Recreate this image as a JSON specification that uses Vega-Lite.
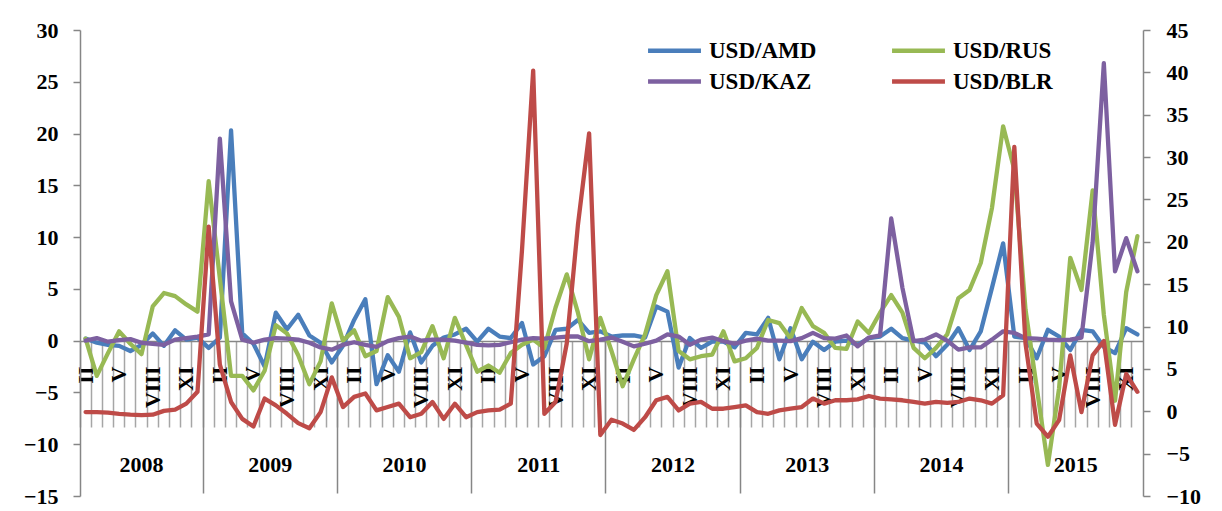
{
  "$schema": "https://vega.github.io/schema/vega-lite/v6.json",
  "width": 1063,
  "height": 466,
  "autosize": "none",
  "padding": {"left": 80, "top": 30, "right": 79, "bottom": 15},
  "background": "white",
  "config": {
    "view": {"stroke": null},
    "font": "Liberation Serif",
    "axis": {
      "labelFont": "Liberation Serif",
      "labelFontWeight": "bold",
      "labelFontSize": 22,
      "labelColor": "#000000",
      "domainColor": "#868686",
      "tickColor": "#868686",
      "grid": false
    }
  },
  "data": {
    "values": [
      {"m": "2008-02", "USD/AMD": 0.2, "USD/RUS": 0.2, "USD/KAZ": 0, "USD/BLR": -0.1},
      {"m": "2008-03", "USD/AMD": -0.2, "USD/RUS": -3.4, "USD/KAZ": 0.25, "USD/BLR": -0.1},
      {"m": "2008-04", "USD/AMD": -0.4, "USD/RUS": -1.2, "USD/KAZ": -0.1, "USD/BLR": -0.15},
      {"m": "2008-05", "USD/AMD": -0.5, "USD/RUS": 0.9, "USD/KAZ": 0.05, "USD/BLR": -0.3},
      {"m": "2008-06", "USD/AMD": -1.0, "USD/RUS": -0.3, "USD/KAZ": 0.15, "USD/BLR": -0.4},
      {"m": "2008-07", "USD/AMD": -0.4, "USD/RUS": -1.3, "USD/KAZ": -0.2, "USD/BLR": -0.45},
      {"m": "2008-08", "USD/AMD": 0.7, "USD/RUS": 3.3, "USD/KAZ": -0.3, "USD/BLR": -0.4},
      {"m": "2008-09", "USD/AMD": -0.5, "USD/RUS": 4.6, "USD/KAZ": -0.4, "USD/BLR": 0.05},
      {"m": "2008-10", "USD/AMD": 1.0, "USD/RUS": 4.3, "USD/KAZ": 0.1, "USD/BLR": 0.2},
      {"m": "2008-11", "USD/AMD": 0.1, "USD/RUS": 3.5, "USD/KAZ": 0.25, "USD/BLR": 0.9},
      {"m": "2008-12", "USD/AMD": 0.3, "USD/RUS": 2.8, "USD/KAZ": 0.4, "USD/BLR": 2.3},
      {"m": "2009-01", "USD/AMD": -0.7, "USD/RUS": 15.4, "USD/KAZ": 0.6, "USD/BLR": 21.8},
      {"m": "2009-02", "USD/AMD": 0.3, "USD/RUS": 6.0, "USD/KAZ": 19.5, "USD/BLR": 5.5},
      {"m": "2009-03", "USD/AMD": 20.3, "USD/RUS": -3.4, "USD/KAZ": 3.8, "USD/BLR": 1.1},
      {"m": "2009-04", "USD/AMD": 0.7, "USD/RUS": -3.4, "USD/KAZ": 0.1, "USD/BLR": -0.9},
      {"m": "2009-05", "USD/AMD": -0.3, "USD/RUS": -4.8, "USD/KAZ": -0.2, "USD/BLR": -1.8},
      {"m": "2009-06", "USD/AMD": -2.5, "USD/RUS": -2.9, "USD/KAZ": 0.1, "USD/BLR": 1.5},
      {"m": "2009-07", "USD/AMD": 2.7, "USD/RUS": 1.5, "USD/KAZ": 0.25, "USD/BLR": 0.7},
      {"m": "2009-08", "USD/AMD": 1.1, "USD/RUS": 0.7, "USD/KAZ": 0.2, "USD/BLR": -0.3},
      {"m": "2009-09", "USD/AMD": 2.5, "USD/RUS": -1.4, "USD/KAZ": 0.1, "USD/BLR": -1.4},
      {"m": "2009-10", "USD/AMD": 0.5, "USD/RUS": -4.2, "USD/KAZ": -0.2, "USD/BLR": -2.0},
      {"m": "2009-11", "USD/AMD": -0.2, "USD/RUS": -2.0, "USD/KAZ": -0.65, "USD/BLR": -0.1},
      {"m": "2009-12", "USD/AMD": -2.1, "USD/RUS": 3.6, "USD/KAZ": -0.87, "USD/BLR": 4.0},
      {"m": "2010-01", "USD/AMD": -0.5, "USD/RUS": 0, "USD/KAZ": -0.4, "USD/BLR": 0.5},
      {"m": "2010-02", "USD/AMD": 2.0, "USD/RUS": 1.0, "USD/KAZ": -0.15, "USD/BLR": 1.7},
      {"m": "2010-03", "USD/AMD": 4.0, "USD/RUS": -1.5, "USD/KAZ": -0.4, "USD/BLR": 2.1},
      {"m": "2010-04", "USD/AMD": -4.2, "USD/RUS": -1.0, "USD/KAZ": -0.6, "USD/BLR": 0.1},
      {"m": "2010-05", "USD/AMD": -1.4, "USD/RUS": 4.2, "USD/KAZ": -0.05, "USD/BLR": 0.5},
      {"m": "2010-06", "USD/AMD": -3.0, "USD/RUS": 2.3, "USD/KAZ": 0.25, "USD/BLR": 0.9},
      {"m": "2010-07", "USD/AMD": 0.8, "USD/RUS": -1.7, "USD/KAZ": 0.4, "USD/BLR": -0.7},
      {"m": "2010-08", "USD/AMD": -2.1, "USD/RUS": -1.1, "USD/KAZ": 0, "USD/BLR": -0.3},
      {"m": "2010-09", "USD/AMD": -0.5, "USD/RUS": 1.4, "USD/KAZ": 0.1, "USD/BLR": 1.1},
      {"m": "2010-10", "USD/AMD": 0.3, "USD/RUS": -1.7, "USD/KAZ": 0.1, "USD/BLR": -0.9},
      {"m": "2010-11", "USD/AMD": 0.6, "USD/RUS": 2.2, "USD/KAZ": 0, "USD/BLR": 0.9},
      {"m": "2010-12", "USD/AMD": 1.15, "USD/RUS": -0.4, "USD/KAZ": -0.2, "USD/BLR": -0.7},
      {"m": "2011-01", "USD/AMD": -0.1, "USD/RUS": -3.0, "USD/KAZ": -0.4, "USD/BLR": -0.1},
      {"m": "2011-02", "USD/AMD": 1.15, "USD/RUS": -2.4, "USD/KAZ": -0.45, "USD/BLR": 0.1},
      {"m": "2011-03", "USD/AMD": 0.4, "USD/RUS": -3.1, "USD/KAZ": -0.4, "USD/BLR": 0.2},
      {"m": "2011-04", "USD/AMD": 0.25, "USD/RUS": -1.2, "USD/KAZ": -0.15, "USD/BLR": 0.9},
      {"m": "2011-05", "USD/AMD": 1.7, "USD/RUS": -0.4, "USD/KAZ": 0.1, "USD/BLR": 19.0},
      {"m": "2011-06", "USD/AMD": -2.3, "USD/RUS": 0.1, "USD/KAZ": 0.25, "USD/BLR": 40.2},
      {"m": "2011-07", "USD/AMD": -1.5, "USD/RUS": -0.7, "USD/KAZ": 0.2, "USD/BLR": -0.3},
      {"m": "2011-08", "USD/AMD": 1.05, "USD/RUS": 3.2, "USD/KAZ": 0.3, "USD/BLR": 1.1},
      {"m": "2011-09", "USD/AMD": 1.15, "USD/RUS": 6.4, "USD/KAZ": 0.4, "USD/BLR": 8.0},
      {"m": "2011-10", "USD/AMD": 2.0, "USD/RUS": 2.7, "USD/KAZ": 0.4, "USD/BLR": 22.0},
      {"m": "2011-11", "USD/AMD": 0.75, "USD/RUS": -1.8, "USD/KAZ": -0.05, "USD/BLR": 32.8},
      {"m": "2011-12", "USD/AMD": 0.9, "USD/RUS": 2.2, "USD/KAZ": 0.1, "USD/BLR": -2.8},
      {"m": "2012-01", "USD/AMD": 0.4, "USD/RUS": -1.0, "USD/KAZ": 0.3, "USD/BLR": -1.0},
      {"m": "2012-02", "USD/AMD": 0.5, "USD/RUS": -4.4, "USD/KAZ": -0.1, "USD/BLR": -1.45},
      {"m": "2012-03", "USD/AMD": 0.5, "USD/RUS": -1.8, "USD/KAZ": -0.55, "USD/BLR": -2.2},
      {"m": "2012-04", "USD/AMD": 0.3, "USD/RUS": 0.6, "USD/KAZ": -0.3, "USD/BLR": -0.7},
      {"m": "2012-05", "USD/AMD": 3.3, "USD/RUS": 4.4, "USD/KAZ": 0, "USD/BLR": 1.3},
      {"m": "2012-06", "USD/AMD": 2.8, "USD/RUS": 6.7, "USD/KAZ": 0.6, "USD/BLR": 1.7},
      {"m": "2012-07", "USD/AMD": -2.6, "USD/RUS": -1.0, "USD/KAZ": 0.4, "USD/BLR": 0.1},
      {"m": "2012-08", "USD/AMD": 0.25, "USD/RUS": -1.8, "USD/KAZ": -0.4, "USD/BLR": 0.9},
      {"m": "2012-09", "USD/AMD": -0.7, "USD/RUS": -1.5, "USD/KAZ": 0.1, "USD/BLR": 1.1},
      {"m": "2012-10", "USD/AMD": -0.1, "USD/RUS": -1.35, "USD/KAZ": 0.3, "USD/BLR": 0.3},
      {"m": "2012-11", "USD/AMD": -0.1, "USD/RUS": 0.9, "USD/KAZ": -0.05, "USD/BLR": 0.3},
      {"m": "2012-12", "USD/AMD": -0.65, "USD/RUS": -2.0, "USD/KAZ": -0.3, "USD/BLR": 0.5},
      {"m": "2013-01", "USD/AMD": 0.75, "USD/RUS": -1.7, "USD/KAZ": 0, "USD/BLR": 0.7},
      {"m": "2013-02", "USD/AMD": 0.6, "USD/RUS": -0.7, "USD/KAZ": 0.2, "USD/BLR": -0.1},
      {"m": "2013-03", "USD/AMD": 2.2, "USD/RUS": 2.0, "USD/KAZ": 0, "USD/BLR": -0.3},
      {"m": "2013-04", "USD/AMD": -1.8, "USD/RUS": 1.7, "USD/KAZ": 0, "USD/BLR": 0.1},
      {"m": "2013-05", "USD/AMD": 1.2, "USD/RUS": 0.2, "USD/KAZ": -0.05, "USD/BLR": 0.3},
      {"m": "2013-06", "USD/AMD": -1.8, "USD/RUS": 3.15, "USD/KAZ": 0.25, "USD/BLR": 0.5},
      {"m": "2013-07", "USD/AMD": -0.1, "USD/RUS": 1.4, "USD/KAZ": 0.75, "USD/BLR": 1.5},
      {"m": "2013-08", "USD/AMD": -0.9, "USD/RUS": 0.75, "USD/KAZ": 0.25, "USD/BLR": 0.9},
      {"m": "2013-09", "USD/AMD": -0.1, "USD/RUS": -0.7, "USD/KAZ": 0.2, "USD/BLR": 1.3},
      {"m": "2013-10", "USD/AMD": 0, "USD/RUS": -0.8, "USD/KAZ": 0.5, "USD/BLR": 1.3},
      {"m": "2013-11", "USD/AMD": -0.4, "USD/RUS": 1.85, "USD/KAZ": -0.55, "USD/BLR": 1.4},
      {"m": "2013-12", "USD/AMD": 0.25, "USD/RUS": 0.75, "USD/KAZ": 0.3, "USD/BLR": 1.8},
      {"m": "2014-01", "USD/AMD": 0.4, "USD/RUS": 2.7, "USD/KAZ": 0.5, "USD/BLR": 1.5},
      {"m": "2014-02", "USD/AMD": 1.15, "USD/RUS": 4.4, "USD/KAZ": 11.8, "USD/BLR": 1.4},
      {"m": "2014-03", "USD/AMD": 0.25, "USD/RUS": 2.7, "USD/KAZ": 5.1, "USD/BLR": 1.3},
      {"m": "2014-04", "USD/AMD": 0, "USD/RUS": -0.7, "USD/KAZ": -0.05, "USD/BLR": 1.1},
      {"m": "2014-05", "USD/AMD": -0.2, "USD/RUS": -1.7, "USD/KAZ": 0.1, "USD/BLR": 0.9},
      {"m": "2014-06", "USD/AMD": -1.5, "USD/RUS": -0.7, "USD/KAZ": 0.6, "USD/BLR": 1.1},
      {"m": "2014-07", "USD/AMD": -0.4, "USD/RUS": 0.6, "USD/KAZ": 0, "USD/BLR": 1.0},
      {"m": "2014-08", "USD/AMD": 1.2, "USD/RUS": 4.1, "USD/KAZ": -0.87, "USD/BLR": 1.1},
      {"m": "2014-09", "USD/AMD": -0.9, "USD/RUS": 4.9, "USD/KAZ": -0.65, "USD/BLR": 1.5},
      {"m": "2014-10", "USD/AMD": 0.9, "USD/RUS": 7.5, "USD/KAZ": -0.65, "USD/BLR": 1.3},
      {"m": "2014-11", "USD/AMD": 5.1, "USD/RUS": 12.8, "USD/KAZ": 0.1, "USD/BLR": 0.9},
      {"m": "2014-12", "USD/AMD": 9.4, "USD/RUS": 20.7, "USD/KAZ": 0.9, "USD/BLR": 1.9},
      {"m": "2015-01", "USD/AMD": 0.4, "USD/RUS": 16.5, "USD/KAZ": 0.75, "USD/BLR": 31.2},
      {"m": "2015-02", "USD/AMD": 0.25, "USD/RUS": 3.0, "USD/KAZ": 0.25, "USD/BLR": 8.0},
      {"m": "2015-03", "USD/AMD": -1.7, "USD/RUS": -4.5, "USD/KAZ": 0.2, "USD/BLR": -1.45},
      {"m": "2015-04", "USD/AMD": 1.05, "USD/RUS": -12.0, "USD/KAZ": 0.1, "USD/BLR": -3.0},
      {"m": "2015-05", "USD/AMD": 0.4, "USD/RUS": -4.6, "USD/KAZ": 0.05, "USD/BLR": -1.05},
      {"m": "2015-06", "USD/AMD": -0.9, "USD/RUS": 8.0, "USD/KAZ": 0.1, "USD/BLR": 6.6},
      {"m": "2015-07", "USD/AMD": 1.05, "USD/RUS": 4.9, "USD/KAZ": 0.3, "USD/BLR": -0.1},
      {"m": "2015-08", "USD/AMD": 0.9, "USD/RUS": 14.5, "USD/KAZ": 9.5, "USD/BLR": 6.6},
      {"m": "2015-09", "USD/AMD": -0.6, "USD/RUS": 2.5, "USD/KAZ": 26.8, "USD/BLR": 8.3},
      {"m": "2015-10", "USD/AMD": -1.2, "USD/RUS": -5.8, "USD/KAZ": 6.7, "USD/BLR": -1.6},
      {"m": "2015-11", "USD/AMD": 1.2, "USD/RUS": 4.7, "USD/KAZ": 9.9, "USD/BLR": 4.4},
      {"m": "2015-12", "USD/AMD": 0.6, "USD/RUS": 10.1, "USD/KAZ": 6.7, "USD/BLR": 2.3}
    ]
  },
  "transform": [
    {"fold": ["USD/AMD", "USD/RUS", "USD/KAZ", "USD/BLR"], "as": ["s", "v"]}
  ],
  "layer": [
    {
      "transform": [{"filter": "datum.s != 'USD/BLR'"}],
      "mark": {"type": "line", "strokeWidth": 4.3, "strokeCap": "round", "strokeJoin": "round"},
      "encoding": {
        "x": {
          "field": "m", "type": "ordinal",
          "scale": {"type": "band", "paddingInner": 0, "paddingOuter": 0},
          "axis": {
            "orient": "bottom", "offset": -155, "title": null, "labels": false,
            "bandPosition": 0, "tickSize": 86, "tickWidth": 1.5, "tickColor": "#a6a6a6",
            "domainWidth": 1.5, "domainColor": "#868686"
          }
        },
        "y": {
          "field": "v", "type": "quantitative",
          "scale": {"domain": [-15, 30], "nice": false, "zero": false},
          "axis": {
            "orient": "left", "title": null, "values": [-15, -10, -5, 0, 5, 10, 15, 20, 25, 30],
            "tickSize": 7, "labelPadding": 15, "domainWidth": 1.5, "tickWidth": 1.5
          }
        },
        "color": {
          "field": "s", "type": "nominal",
          "scale": {"domain": ["USD/AMD", "USD/RUS", "USD/KAZ", "USD/BLR"], "range": ["#4A7EBB", "#98B954", "#7D60A0", "#BE4B48"]},
          "legend": {
            "orient": "none", "legendX": 579, "legendY": 5, "direction": "horizontal", "columns": 2, "title": null,
            "symbolType": "M-2,0L2,0", "symbolSize": 700, "symbolStrokeWidth": 4.5,
            "labelFont": "Liberation Serif", "labelFontWeight": "bold", "labelFontSize": 23,
            "labelColor": "#000000", "labelOffset": 19, "columnPadding": 66, "rowPadding": 3,
            "padding": 0, "labelLimit": 300
          }
        }
      }
    },
    {
      "transform": [{"filter": "datum.s == 'USD/BLR'"}],
      "mark": {"type": "line", "strokeWidth": 4.3, "strokeCap": "round", "strokeJoin": "round"},
      "encoding": {
        "x": {
          "field": "m", "type": "ordinal",
          "scale": {"type": "band", "paddingInner": 0, "paddingOuter": 0},
          "axis": {
            "orient": "bottom", "offset": -155, "title": null, "labels": false, "domain": false,
            "bandPosition": 0,
            "values": ["2009-01", "2010-01", "2011-01", "2012-01", "2013-01", "2014-01", "2015-01"],
            "tickSize": 152, "tickWidth": 1.5, "tickColor": "#868686"
          }
        },
        "y": {
          "field": "v", "type": "quantitative",
          "scale": {"domain": [-10, 45], "nice": false, "zero": false},
          "axis": {
            "orient": "right", "title": null, "values": [-10, -5, 0, 5, 10, 15, 20, 25, 30, 35, 40, 45],
            "tickSize": 7, "labelPadding": 16, "domainWidth": 1.5, "tickWidth": 1.5
          }
        },
        "color": {
          "field": "s", "type": "nominal",
          "scale": {"domain": ["USD/AMD", "USD/RUS", "USD/KAZ", "USD/BLR"], "range": ["#4A7EBB", "#98B954", "#7D60A0", "#BE4B48"]}
        }
      }
    },
    {
      "transform": [{"filter": "datum.s == 'USD/AMD'"}],
      "mark": {"type": "point", "opacity": 0},
      "encoding": {
        "x": {
          "field": "m", "type": "ordinal",
          "scale": {"type": "band", "paddingInner": 0, "paddingOuter": 0},
          "axis": {
            "orient": "bottom", "offset": -155, "title": null, "domain": false, "ticks": false,
            "values": ["2008-02", "2008-05", "2008-08", "2008-11", "2009-02", "2009-05", "2009-08", "2009-11", "2010-02", "2010-05", "2010-08", "2010-11", "2011-02", "2011-05", "2011-08", "2011-11", "2012-02", "2012-05", "2012-08", "2012-11", "2013-02", "2013-05", "2013-08", "2013-11", "2014-02", "2014-05", "2014-08", "2014-11", "2015-02", "2015-05", "2015-08", "2015-11"],
            "labelExpr": "slice(datum.value, 5) == '02' ? 'II' : slice(datum.value, 5) == '05' ? 'V' : slice(datum.value, 5) == '08' ? 'VIII' : 'XI'",
            "labelAngle": 270, "labelAlign": "right", "labelBaseline": "middle",
            "labelPadding": 25, "labelOverlap": false, "labelFlush": false
          }
        }
      }
    },
    {
      "transform": [{"filter": "datum.s == 'USD/AMD'"}],
      "mark": {"type": "point", "opacity": 0},
      "encoding": {
        "x": {
          "field": "m", "type": "ordinal",
          "scale": {"type": "band", "paddingInner": 0, "paddingOuter": 0},
          "axis": {
            "orient": "bottom", "offset": -155, "title": null, "domain": false, "ticks": false,
            "values": ["2008-07", "2009-07", "2010-07", "2011-07", "2012-07", "2013-07", "2014-07", "2015-07"],
            "labelExpr": "slice(datum.value, 0, 4)",
            "labelAngle": 0, "labelAlign": "center", "labelBaseline": "top",
            "labelPadding": 113, "labelOverlap": false, "labelFlush": false,
            "labelOffset": {"condition": {"test": "datum.value == '2008-07'", "value": 0}, "value": -5.6}
          }
        }
      }
    }
  ],
  "resolve": {"scale": {"y": "independent"}, "axis": {"x": "independent", "y": "independent"}}
}
